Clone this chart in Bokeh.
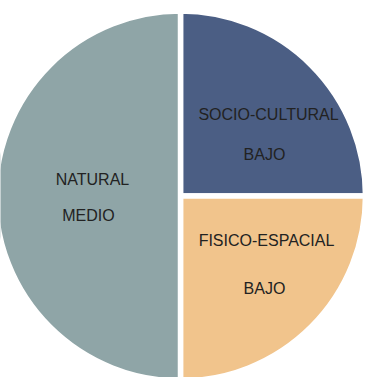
import math
from bokeh.plotting import figure
from bokeh.models import Range1d, ColumnDataSource
from bokeh.core.properties import value
from bokeh.embed import file_html
from bokeh.resources import INLINE

# ---- data (clockwise from 12 o'clock, Excel style) ----
categories = ["SOCIO-CULTURAL", "FISICO-ESPACIAL", "NATURAL"]
levels = ["BAJO", "BAJO", "MEDIO"]
values = [25, 25, 50]
colors = ["#4B5E84", "#F1C48C", "#8FA5A7"]

# ---- layout (pixels) ----
W, H = 372, 377
CX, CY = 180, 181.5
R = 185
# label offsets from pie centre: (category line), (level line)
label_offsets = {
    "SOCIO-CULTURAL": ((88, 81.5), (84, 41.5)),
    "FISICO-ESPACIAL": ((86, -44.5), (84, -92.5)),
    "NATURAL": ((-88, 16.5), (-92, -19)),
}

total = float(sum(values))
starts, ends = [], []
cum = 0.0
for v in values:
    starts.append(math.pi / 2 - 2 * math.pi * cum / total)
    cum += v
    ends.append(math.pi / 2 - 2 * math.pi * cum / total)

src = ColumnDataSource(dict(cat=categories, lvl=levels, val=values, color=colors,
                            start=starts, end=ends,
                            x=[CX] * len(values), y=[CY] * len(values)))

p = figure(width=W, height=H, x_range=Range1d(0, W), y_range=Range1d(0, H),
           output_backend="svg", toolbar_location=None, min_border=0)
p.axis.visible = False
p.grid.visible = False
p.outline_line_color = None
p.background_fill_color = "white"
p.border_fill_color = "white"

p.wedge(x="x", y="y", radius=R, start_angle="start", end_angle="end",
        direction="clock", fill_color="color", line_color="white",
        line_width=5.5, source=src)

tx1, ty1, tx2, ty2 = [], [], [], []
for c in categories:
    (a, b), (d, e) = label_offsets[c]
    tx1.append(CX + a); ty1.append(CY + b)
    tx2.append(CX + d); ty2.append(CY + e)

lab = ColumnDataSource(dict(cat=categories, lvl=levels,
                            x1=tx1, y1=ty1, x2=tx2, y2=ty2))
common = dict(text_align="center", text_baseline="middle",
              text_font=value("Liberation Sans"), text_font_size="16px",
              text_color="#222222", source=lab)
p.text(x="x1", y="y1", text="cat", **common)
p.text(x="x2", y="y2", text="lvl", **common)

open("out.html", "w").write(file_html(p, INLINE))
